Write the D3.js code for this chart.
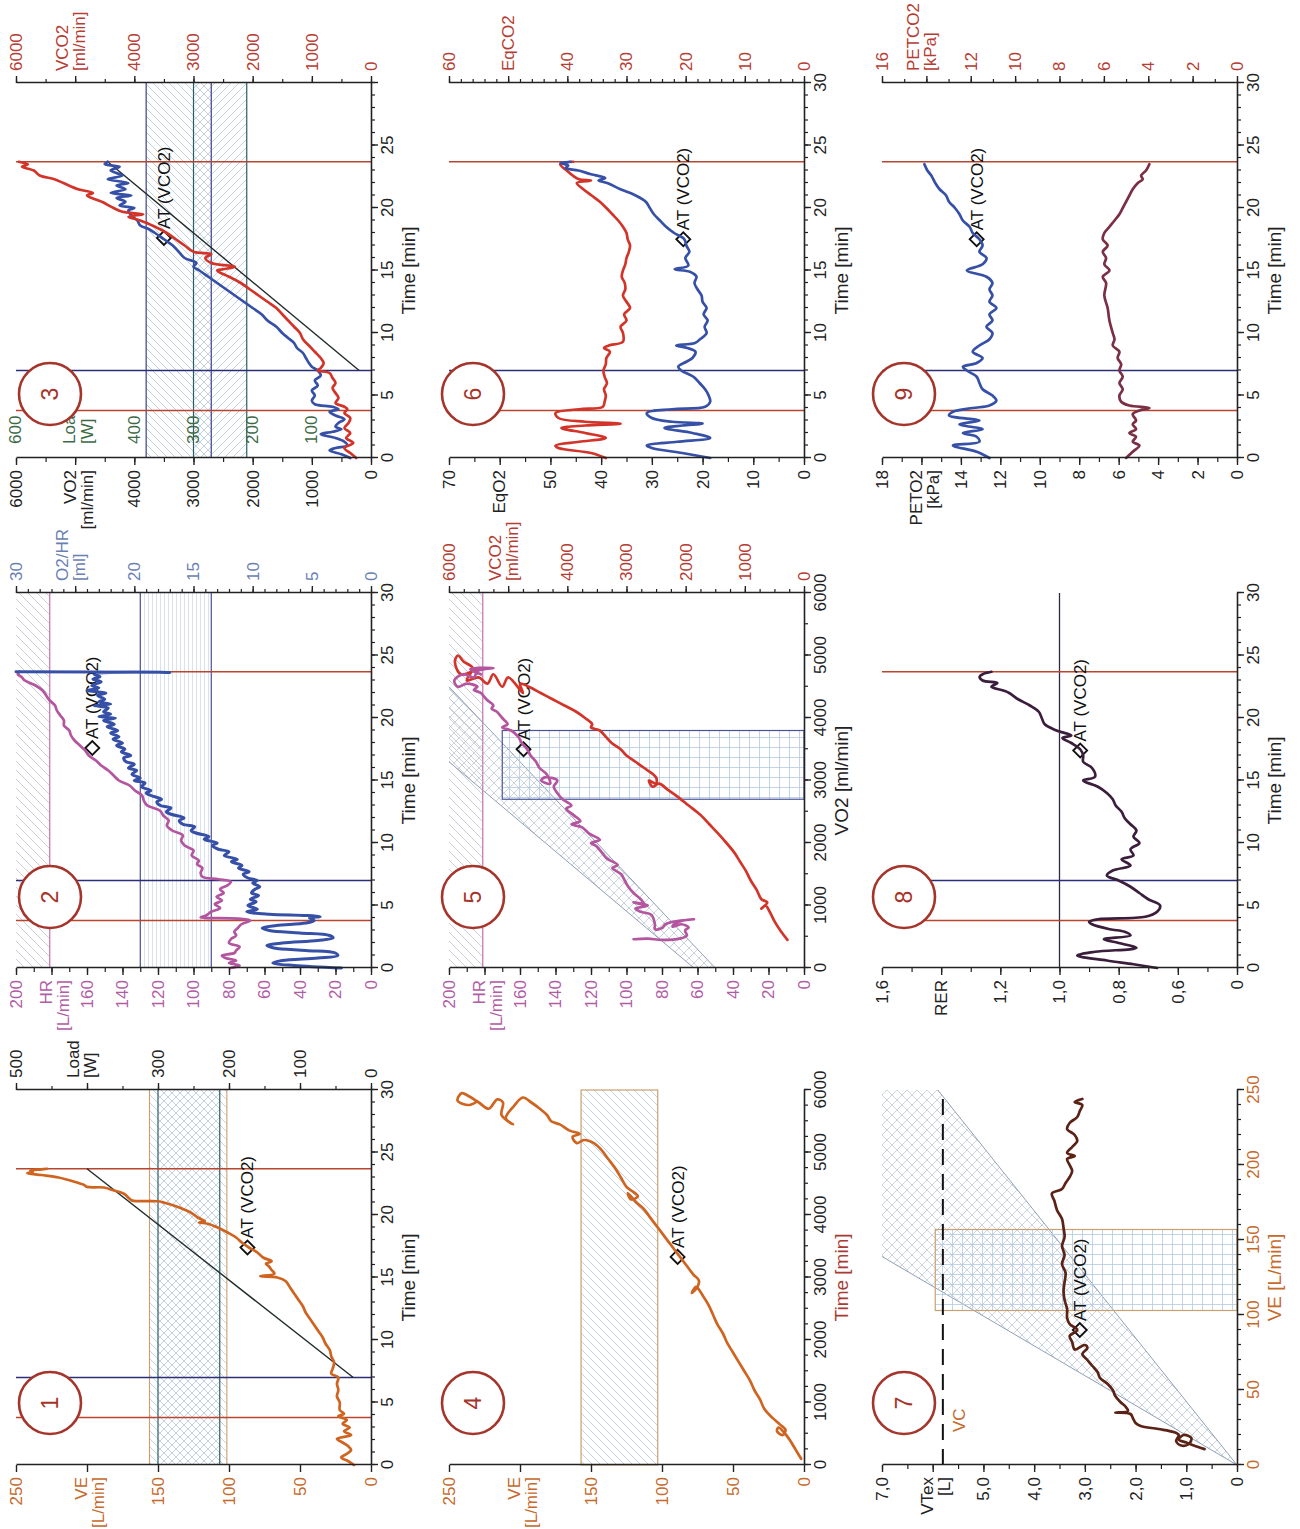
<!DOCTYPE html>
<html>
<head>
<meta charset="utf-8">
<title>CPET nine-panel plot</title>
<script src="https://cdn.jsdelivr.net/npm/d3@7"></script>
<style>
  body { margin: 0; background: #fff; }
  svg text { font-family: "Liberation Sans", Arial, Helvetica, sans-serif; }
</style>
</head>
<body>
<svg id="chart" width="1300" height="1529"></svg>
<script>
// values (page is rotated 90deg)

// shared time markers: rest end, warm-up end, exercise end
var eventT = [3.8, 7.0, 23.7];
var eventColor = ["#b9452f", "#2c2e78", "#b9452f"];

// panel 1: VE vs time, load ramp
var veSeries = [[0,12],[0.3,16],[0.6,21],[0.9,17],[1.2,14],[1.5,16],[1.8,20],[2.1,24],[2.4,14],[2.7,19],[3.0,15],[3.3,20],[3.6,17],[3.9,23],[4.1,19],[4.4,22],[5.0,22],[5.5,24],[6.0,23],[6.5,24],[7.0,23],[7.3,28],[7.7,27],[8.2,26],[8.7,28],[9.2,29],[9.7,32],[10.2,34],[10.7,37],[11.2,40],[11.7,43],[12.2,46],[12.7,48],[13.2,51],[13.7,54],[14.2,57],[14.7,60],[15.0,66],[15.1,78],[15.3,68],[15.6,70],[15.9,72],[16.1,74],[16.3,70],[16.6,76],[17.0,80],[17.4,86],[17.8,91],[18.2,95],[18.6,101],[19.0,108],[19.3,115],[19.4,121],[19.5,117],[19.8,122],[20.2,127],[20.6,135],[21.0,146],[21.1,150],[21.15,168],[21.3,170],[21.7,174],[22.0,182],[22.2,188],[22.25,200],[22.4,202],[22.7,210],[23.0,220],[23.2,232],[23.35,242],[23.45,238],[23.55,240],[23.65,232],[23.7,228]];
var loadRamp = [[7.0,25],[23.7,400]];
var p1VEBand = [101.5, 156];
var p1LoadBand = [213, 300];
var p1AT = [17.4, 87];

// panel 2: HR and O2 pulse vs time
var hrSeries = [[0,79],[0.2,74],[0.4,80],[0.6,76],[0.8,82],[1.0,84],[1.2,77],[1.4,76],[1.7,74],[2.0,80],[2.3,79],[2.6,76],[2.9,77],[3.2,75],[3.5,73],[3.8,68],[3.95,75],[4.05,96],[4.2,93],[4.5,90],[4.8,85],[5.1,88],[5.4,84],[5.7,87],[6.0,83],[6.3,85],[6.6,81],[6.9,79],[7.1,86],[7.3,95],[7.6,96],[8.0,95],[8.3,98],[8.6,97],[9.0,101],[9.4,100],[9.8,105],[10.2,107],[10.6,106],[11.0,112],[11.4,115],[11.8,114],[12.2,117],[12.6,119],[13.0,126],[13.4,128],[13.8,129],[14.2,133],[14.6,136],[15.0,142],[15.4,145],[15.8,148],[16.2,152],[16.6,155],[17.0,159],[17.4,161],[17.8,164],[18.2,167],[18.6,169],[19.0,170],[19.4,173],[19.8,173],[20.2,175],[20.6,177],[21.0,178],[21.4,181],[21.8,183],[22.2,185],[22.6,189],[23.0,195],[23.3,197],[23.5,199],[23.7,198]];
var o2hrSeries = [[0,2.5],[0.2,6.5],[0.4,8.3],[0.6,7.5],[0.8,4.5],[1.0,2.8],[1.2,3.0],[1.4,5.5],[1.6,8.2],[1.8,8.8],[2.0,7.5],[2.2,4.5],[2.4,3.2],[2.6,3.5],[2.8,6.0],[3.0,8.6],[3.2,9.2],[3.4,8.0],[3.6,5.5],[3.8,4.8],[4.0,5.2],[4.1,4.3],[4.2,5.5],[4.3,8.6],[4.5,10.5],[4.7,9.6],[5.0,10.4],[5.3,9.7],[5.5,10.2],[5.8,9.5],[6.0,10.1],[6.3,9.8],[6.5,9.4],[6.8,10.0],[7.0,9.6],[7.2,10.4],[7.5,10.8],[7.7,10.3],[8.0,11.2],[8.2,10.9],[8.5,11.8],[8.7,11.3],[9.0,12.4],[9.3,12.0],[9.5,12.9],[9.8,13.4],[10.0,13.0],[10.3,14.1],[10.5,13.7],[10.8,14.8],[11.0,15.2],[11.3,14.9],[11.5,15.9],[11.8,16.2],[12.0,15.8],[12.3,16.9],[12.5,17.3],[12.8,16.9],[13.0,17.8],[13.3,18.1],[13.5,17.7],[13.8,18.6],[14.0,19.0],[14.2,18.6],[14.5,19.4],[14.8,19.1],[15.0,20.0],[15.2,19.5],[15.5,20.2],[15.8,19.8],[16.0,20.5],[16.3,20.0],[16.5,20.7],[16.8,20.9],[17.0,20.3],[17.3,21.1],[17.5,20.8],[17.8,21.5],[18.0,21.0],[18.3,21.8],[18.5,21.3],[18.8,22.0],[19.0,21.4],[19.3,22.3],[19.5,21.7],[19.8,22.6],[20.0,21.6],[20.1,23.0],[20.3,22.0],[20.5,22.6],[20.8,22.2],[21.0,23.4],[21.1,22.0],[21.3,23.0],[21.5,22.5],[21.8,23.1],[22.0,22.4],[22.2,24.0],[22.4,23.0],[22.6,23.6],[22.9,22.8],[23.1,23.5],[23.3,22.9],[23.5,23.4],[23.6,23.0],[23.65,17],[23.7,30]];
var hrMax = 181;
var o2hrBand = [13.5, 19.5];
var p2AT = [17.6, 157];

// panel 3: VO2 and VCO2 vs time, load ramp
var vo2Series = [[0,350],[0.3,500],[0.6,700],[0.8,600],[1.0,400],[1.3,450],[1.6,600],[1.9,850],[2.1,650],[2.3,500],[2.5,600],[2.8,550],[3.1,450],[3.4,600],[3.7,700],[3.9,550],[4.1,650],[4.3,950],[4.6,1000],[5.0,950],[5.4,1000],[5.8,900],[6.2,950],[6.6,850],[7.0,900],[7.3,1000],[7.6,1050],[8.0,1100],[8.4,1150],[8.8,1250],[9.2,1300],[9.6,1400],[10.0,1500],[10.5,1600],[11.0,1750],[11.5,1850],[12.0,2000],[12.5,2150],[13.0,2300],[13.5,2450],[14.0,2600],[14.5,2750],[15.0,2900],[15.3,3000],[15.6,2950],[16.0,3150],[16.5,3250],[17.0,3350],[17.5,3500],[18.0,3650],[18.3,3750],[18.6,3900],[19.0,3950],[19.4,4050],[19.8,4100],[20.0,4000],[20.2,4250],[20.5,4150],[20.8,4300],[21.0,4050],[21.2,4400],[21.5,4150],[21.8,4300],[22.0,4100],[22.3,4450],[22.6,4200],[23.0,4400],[23.3,4250],[23.5,4500],[23.7,4450]];
var vco2Series = [[0,250],[0.4,350],[0.8,450],[1.2,300],[1.6,420],[2.0,350],[2.4,450],[2.8,380],[3.2,350],[3.6,450],[3.9,400],[4.1,450],[4.4,600],[4.8,550],[5.2,600],[5.6,650],[6.0,600],[6.4,650],[6.8,700],[7.0,900],[7.2,850],[7.6,800],[8.0,850],[8.5,950],[9.0,1050],[9.5,1150],[10.0,1200],[10.5,1300],[11.0,1400],[11.5,1500],[12.0,1600],[12.5,1750],[13.0,1900],[13.5,2050],[14.0,2200],[14.5,2400],[15.0,2600],[15.1,2500],[15.3,2300],[15.6,2700],[16.0,2800],[16.3,2700],[16.5,3000],[17.0,3150],[17.5,3300],[18.0,3450],[18.5,3650],[19.0,3900],[19.3,4100],[19.5,3850],[19.7,4200],[20.0,4350],[20.5,4550],[21.0,4800],[21.2,4700],[21.5,4950],[22.0,5200],[22.3,5350],[22.6,5600],[23.0,5700],[23.3,5900],[23.5,5800],[23.7,5950]];
var loadRamp3 = [[7.0,20],[23.7,445]];
var vo2Band = [2700, 3800];
var loadBand3 = [210, 300];
var p3AT = [17.6, 3500];
var loadInnerTicks = [100, 200, 300, 400, 500, 600];
var loadInnerLabels = ["100", "200", "300", "400", "", "600"];

// panel 4: VE vs VCO2
var p4Series = [[100,2],[250,6],[400,10],[520,14],[600,18],[540,19],[480,15],[560,13],[650,17],[750,22],[900,28],[1050,31],[1200,35],[1350,38],[1500,42],[1650,46],[1800,50],[1950,54],[2100,57],[2250,61],[2400,64],[2550,67],[2700,71],[2850,76],[2750,79],[2850,75],[2950,74],[3050,78],[3200,83],[3350,88],[3500,93],[3650,98],[3800,103],[3950,108],[4100,113],[4200,118],[4350,124],[4250,122],[4300,117],[4450,125],[4600,129],[4750,133],[4900,138],[5050,143],[5150,148],[5200,155],[5150,160],[5250,163],[5300,158],[5350,165],[5450,172],[5500,178],[5600,181],[5700,186],[5800,192],[5880,198],[5750,204],[5550,210],[5450,205],[5600,213],[5800,212],[5850,216],[5700,222],[5800,229],[5900,236],[5950,241],[5830,244],[5760,236],[5820,230]];
var p4Band = [103, 157];
var p4AT = [3330, 89];

// panel 5: HR and VCO2 vs VO2
var p5HrSeries = [[460,96],[470,88],[450,80],[470,70],[520,66],[600,67],[650,65],[700,69],[660,74],[720,72],[760,68],[780,62],[740,74],[700,78],[640,80],[620,84],[700,84],[850,86],[900,92],[950,95],[1000,88],[1050,96],[1020,90],[1100,92],[1200,96],[1300,99],[1400,101],[1500,103],[1600,108],[1650,105],[1750,111],[1850,114],[1950,117],[2000,120],[2050,115],[2150,121],[2250,125],[2300,131],[2350,126],[2450,130],[2550,134],[2600,131],[2700,136],[2800,139],[2900,141],[3000,139],[3050,146],[3000,148],[2950,143],[3100,145],[3200,149],[3300,151],[3400,154],[3500,156],[3600,159],[3700,161],[3800,165],[3850,170],[3900,167],[4000,170],[4100,173],[4150,176],[4200,175],[4300,179],[4400,182],[4450,186],[4500,184],[4550,190],[4500,195],[4600,197],[4700,192],[4650,186],[4750,184],[4800,175],[4780,188],[4700,182]];
var p5Vco2Series = [[450,280],[600,400],[750,500],[900,580],[1000,650],[950,720],[1050,620],[1100,720],[1250,800],[1400,900],[1550,980],[1700,1080],[1850,1180],[2000,1310],[2150,1450],[2300,1600],[2450,1750],[2600,1950],[2750,2150],[2850,2300],[2950,2450],[2900,2560],[3000,2620],[2950,2500],[3050,2500],[3200,2700],[3300,2850],[3400,3000],[3500,3100],[3600,3250],[3700,3350],[3800,3450],[3850,3600],[3900,3580],[4000,3700],[4100,3850],[4200,4050],[4300,4250],[4400,4450],[4500,4650],[4550,4800],[4400,4750],[4650,5000],[4500,5100],[4700,5250],[4550,5350],[4650,5500],[4600,5700],[4800,5600],[4900,5750],[5000,5850],[4900,5900],[4700,5800],[4800,5500]];
var fanLow = [[0,50],[4500,200]];
var fanHigh = [[0,62],[3300,200]];
var p5Rect = [2700, 3800, 170];
var p5AT = [3500, 158];

// panel 6: ventilatory equivalents vs time
var eqo2Series = [[0,18.5],[0.4,24],[0.8,30],[1.0,31],[1.3,25],[1.6,18.5],[2.0,22],[2.4,27.5],[2.6,24],[2.75,20],[2.9,26],[3.2,30],[3.6,31],[3.9,26],[4.1,19.5],[4.5,18.5],[5.0,18.8],[5.5,19.5],[6.0,20.6],[6.5,21.8],[7.0,24.2],[7.3,24.8],[7.7,23.2],[8.0,22.0],[8.5,21.4],[8.8,23.0],[9.0,25.2],[9.2,21.5],[9.5,20.5],[10.0,19.2],[10.5,19.6],[11.0,19.0],[11.5,19.8],[12.0,19.2],[12.5,20.0],[13.0,20.2],[13.5,21.0],[14.0,21.6],[14.5,21.2],[14.9,22.5],[15.1,25.5],[15.4,22.8],[16.0,23.4],[16.5,22.6],[17.0,23.2],[17.5,23.6],[18.0,25.6],[18.5,27.2],[19.0,28.4],[19.5,29.6],[20.0,30.4],[20.5,31.2],[21.0,33.2],[21.5,36.2],[22.0,38.8],[22.2,40.5],[22.4,39.2],[22.7,42],[23.0,44.5],[23.2,47],[23.4,46.5],[23.6,48],[23.7,46]];
var eqco2Series = [[0,33.5],[0.4,36],[0.8,41.5],[1.0,42],[1.3,38],[1.6,33.5],[2.0,37],[2.4,41],[2.6,37],[2.75,31],[2.9,37],[3.2,41.5],[3.6,42],[3.9,38],[4.1,34],[4.5,33.7],[5.0,33.5],[5.5,33.8],[6.0,33.3],[6.5,33.7],[7.0,33.9],[7.5,33.5],[8.0,33.4],[8.5,32.8],[8.8,33.8],[9.0,33.0],[9.3,30.6],[10.0,30.6],[10.5,31.0],[11.0,30.0],[11.5,30.4],[12.0,29.4],[12.5,30.0],[13.0,30.6],[13.5,30.2],[14.0,30.3],[14.5,30.8],[15.0,30.6],[15.5,30.2],[16.0,30.0],[16.5,29.6],[17.0,29.4],[17.5,29.8],[18.0,30.0],[18.5,30.6],[19.0,31.4],[19.5,32.4],[20.0,33.4],[20.5,34.5],[21.0,35.9],[21.5,37.3],[22.0,38.4],[22.2,36.0],[22.3,38.0],[22.5,38.8],[23.0,40.1],[23.5,41.2],[23.7,39]];
var p6AT = [17.5, 23.8];

// panel 7: tidal volume vs VE
var vtSeries = [[10.6,0.64],[13,0.85],[15,1.0],[17,1.15],[20,1.05],[18,0.9],[14,0.95],[13,1.1],[16,1.2],[20,1.15],[22,1.25],[24,1.55],[26,1.9],[28,2.0],[31,2.05],[34,2.1],[35,2.4],[36,2.15],[39,2.2],[42,2.3],[46,2.4],[50,2.45],[54,2.55],[58,2.7],[62,2.75],[66,2.85],[70,2.95],[74,3.05],[78,2.95],[80,3.0],[77,3.2],[82,3.25],[86,3.3],[90,3.15],[94,3.3],[98,3.35],[104,3.35],[110,3.4],[116,3.42],[122,3.4],[128,3.38],[134,3.45],[140,3.4],[146,3.45],[152,3.4],[158,3.42],[164,3.45],[170,3.55],[176,3.6],[181,3.65],[184,3.45],[188,3.38],[192,3.3],[196,3.25],[200,3.3],[204,3.35],[206,3.2],[208,3.35],[212,3.25],[216,3.15],[220,3.2],[224,3.35],[228,3.3],[232,3.15],[236,3.1],[240,3.05],[242,3.2],[244,3.05]];
var vcLevel = 5.8;
var fanSteep = [[0,0],[139,7.0]];
var fanShallow = [[0,0],[250,5.9]];
var p7Rect = [103, 157, 5.95];
var p7AT = [90, 3.1];

// panel 8: RER vs time
var rerSeries = [[0,0.67],[0.3,0.75],[0.6,0.84],[1.0,0.94],[1.3,0.88],[1.6,0.74],[2.0,0.8],[2.3,0.85],[2.6,0.76],[2.9,0.78],[3.1,0.83],[3.5,0.89],[3.7,0.9],[3.9,0.87],[4.1,0.71],[4.5,0.67],[5.0,0.66],[5.5,0.7],[6.0,0.73],[6.5,0.76],[7.0,0.8],[7.4,0.84],[7.8,0.82],[8.2,0.76],[8.7,0.79],[9.0,0.75],[9.5,0.76],[10.0,0.73],[10.5,0.75],[11.0,0.74],[11.5,0.76],[12.0,0.78],[12.5,0.79],[13.0,0.81],[13.5,0.82],[14.0,0.84],[14.5,0.87],[15.0,0.92],[15.3,0.88],[16.0,0.89],[16.5,0.92],[17.0,0.92],[17.5,0.93],[18.0,0.96],[18.4,0.99],[18.6,0.96],[19.0,1.01],[19.5,1.05],[20.0,1.06],[20.5,1.07],[21.0,1.1],[21.5,1.14],[22.0,1.17],[22.2,1.19],[22.5,1.23],[22.8,1.21],[23.0,1.26],[23.3,1.27],[23.5,1.26],[23.7,1.23]];
var rerRef = 1.0;
var p8AT = [17.4, 0.93];
var rerTicks = [0.4, 0.6, 0.8, 1.0, 1.2, 1.4, 1.6];
var rerLabels = ["0", "0,6", "0,8", "1,0", "1,2", "", "1,6"];

// panel 9: end-tidal pressures vs time
var peto2Series = [[0,12.55],[0.5,13.2],[1.0,14.4],[1.3,13.06],[1.7,13.2],[2.0,13.9],[2.3,12.9],[2.7,14.07],[3.0,13.06],[3.4,14.6],[3.7,14.4],[4.0,13.4],[4.2,12.55],[4.6,12.2],[5.0,12.4],[5.5,12.9],[6.0,13.06],[6.5,13.2],[7.0,13.7],[7.3,13.9],[7.6,13.2],[8.0,12.9],[8.5,13.4],[9.0,13.06],[9.5,12.55],[10.0,12.4],[10.5,12.7],[11.0,12.4],[11.5,12.55],[12.0,12.2],[12.5,12.55],[13.0,12.4],[13.5,12.55],[14.0,12.4],[14.5,12.7],[15.0,13.7],[15.5,12.9],[16.0,12.7],[16.5,13.06],[17.0,12.9],[17.5,13.06],[18.0,13.4],[18.5,13.56],[19.0,13.9],[19.5,14.07],[20.0,14.3],[20.5,14.6],[21.0,14.75],[21.5,15.08],[22.0,15.3],[22.3,15.4],[22.6,15.5],[23.0,15.7],[23.5,15.85]];
var petco2Series = [[0,5.0],[0.5,4.7],[1.0,4.4],[1.3,4.7],[1.7,4.55],[2.0,4.85],[2.3,4.55],[2.7,4.7],[3.0,4.55],[3.5,4.7],[3.8,4.4],[4.0,3.95],[4.2,4.85],[4.5,5.22],[5.0,5.3],[5.5,5.15],[6.0,5.3],[6.5,5.15],[7.0,5.3],[7.5,5.22],[8.0,5.38],[8.5,5.3],[9.0,5.6],[9.5,5.52],[10.0,5.6],[11.0,5.75],[12.0,5.83],[13.0,5.98],[14.0,5.9],[14.5,6.05],[15.0,5.75],[15.5,5.98],[16.0,5.9],[16.5,6.05],[17.0,5.83],[17.5,6.05],[18.0,5.98],[18.5,5.75],[19.0,5.52],[19.5,5.3],[20.0,5.15],[20.5,5.0],[21.0,4.85],[21.5,4.7],[22.0,4.47],[22.3,4.25],[22.6,4.32],[23.0,4.1],[23.5,3.95]];
var p9AT = [17.5, 13.2];

// ---- drawing ----
var FONT = '"Liberation Sans", Arial, Helvetica, sans-serif';
var INK = "#222";
var ORANGE = "#cf6420", BLUE = "#3550a6", RED = "#d2342a", MAGENTA = "#b3559f";
var BADGE = "#a5342a", TAN = "#c9a070", TEAL = "#2c5c62", NAVY = "#3a3f86", PINK = "#c77ab6";
var C_VE = "#c66a2c", C_HR = "#b25ca5", C_O2HR = "#6a7fb4", C_RED = "#b53d33", C_LOAD3 = "#3d6a46";

var svg = d3.select("#chart");
var defs = svg.append("defs");
var W = 375, H = 355;
var colX = [64, 561, 1071], rowY = [16, 449, 882];
var circU = [62, 71, 64], circV = [34, 24, 22];

// whole figure is drawn upright then turned a quarter turn
var root = svg.append("g").attr("transform", "translate(0,1529) rotate(-90)");

function pattern(id, s, d, color, w) {
  var p = defs.append("pattern").attr("id", id).attr("patternUnits", "userSpaceOnUse")
      .attr("width", s).attr("height", s);
  p.append("path").attr("d", d).attr("stroke", color).attr("stroke-width", w).attr("fill", "none");
}
function up(s) { return "M0," + s + "L" + s + ",0M-1,1L1,-1M" + (s - 1) + "," + (s + 1) + "L" + (s + 1) + "," + (s - 1); }
function down(s) { return "M0,0L" + s + "," + s + "M-1," + (s - 1) + "L1," + (s + 1) + "M" + (s - 1) + ",-1L" + (s + 1) + ",1"; }
pattern("hatchUp", 8, up(8), "#b3c7db", 0.8);
pattern("hatchDown", 8, down(8), "#b3c7db", 0.8);
pattern("hatchGrey", 9, up(9), "#c0c1cb", 0.8);
pattern("cross", 10, up(10) + down(10), "#b6c2d2", 0.7);
pattern("grid", 10, "M0,0.5H10M0.5,0V10", "#b3c9e1", 0.8);
pattern("horiz", 4, "M0,0.5H4", "#cfdbec", 0.8);

var tx = d3.scaleLinear().domain([0, 30]).range([0, W]);
var curve = d3.curveCatmullRom.alpha(0.5);

function makePanel(col, row, num) {
  var g = root.append("g").attr("transform", "translate(" + colX[col] + "," + rowY[row] + ")");
  g.append("clipPath").attr("id", "clip" + num).append("rect")
      .attr("x", -2).attr("y", -3).attr("width", W + 4).attr("height", H + 5);
  return g;
}

function axis(g, scale, side, o) {
  var gen = side == "left" ? d3.axisLeft : side == "right" ? d3.axisRight : d3.axisBottom;
  var pos = side == "right" ? "translate(" + W + ",0)" : side == "bottom" ? "translate(0," + H + ")" : "translate(0,0)";
  if (o.minor) {
    var m = g.append("g").attr("transform", pos)
        .call(gen(scale).tickValues(o.minor).tickSize(4).tickSizeOuter(0).tickFormat(""));
    m.select(".domain").remove();
    m.selectAll("line").attr("stroke", INK).attr("stroke-width", 1.2);
  }
  var a = g.append("g").attr("transform", pos)
      .call(gen(scale).tickValues(o.ticks).tickSize(7).tickSizeOuter(0)
        .tickPadding(side == "bottom" ? 3 : 5)
        .tickFormat(function(d, i) { return o.labels ? o.labels[i] : d; }));
  a.select(".domain").attr("stroke", INK).attr("stroke-width", 1.6);
  a.selectAll(".tick line").attr("stroke", INK).attr("stroke-width", 1.4);
  a.selectAll(".tick text").attr("fill", o.color || INK)
      .style("font-size", "17px").style("font-family", FONT);

  if (!o.title) return;
  if (side == "bottom") {
    g.append("text").attr("x", W / 2).attr("y", H + 44).attr("text-anchor", "middle")
        .attr("fill", o.titleColor || o.color || INK).style("font-size", "19px").text(o.title);
    return;
  }
  var c = scale(o.titleAt);
  var x = side == "left" ? -12 : W + 12;
  var off = side == "left" ? [-5, 12] : [-13, 4];
  var t = g.append("text").attr("x", x)
      .attr("text-anchor", side == "left" ? "end" : "start")
      .attr("fill", o.color || INK).style("font-size", "17px");
  if (o.title.length == 1) {
    t.append("tspan").attr("x", x).attr("y", c).attr("dy", "0.32em").text(o.title[0]);
  } else {
    t.append("tspan").attr("x", x).attr("y", c + off[0]).attr("dy", "0.32em").text(o.title[0]);
    t.append("tspan").attr("x", x).attr("y", c + off[1]).attr("dy", "0.32em").text(o.title[1]);
  }
}

function timeAxis(g, skip30) {
  axis(g, tx, "bottom", {
    ticks: [0, 5, 10, 15, 20, 25, 30],
    labels: ["0", "5", "10", "15", "20", "25", skip30 ? "" : "30"],
    minor: d3.range(0, 31, 1),
    title: "Time [min]"
  });
}

function band(g, x0, x1, y0, y1, fill, stroke, sw) {
  g.append("rect").attr("x", Math.min(x0, x1)).attr("y", Math.min(y0, y1))
      .attr("width", Math.abs(x1 - x0)).attr("height", Math.abs(y1 - y0))
      .attr("fill", fill).attr("stroke", stroke || "none").attr("stroke-width", sw || 1);
}
function hline(g, y, color, w, dash) {
  g.append("line").attr("x1", 0).attr("x2", W).attr("y1", y).attr("y2", y)
      .attr("stroke", color).attr("stroke-width", w).attr("stroke-dasharray", dash || null);
}
function events(g) {
  eventT.forEach(function(t, i) {
    g.append("line").attr("x1", tx(t)).attr("x2", tx(t)).attr("y1", 0).attr("y2", H)
        .attr("stroke", eventColor[i]).attr("stroke-width", 1.5);
  });
}
function atMark(g, x, y) {
  var r = 7;
  g.append("path").attr("d", "M" + x + "," + (y - r) + "L" + (x + r) + "," + y + "L" + x + "," + (y + r) + "L" + (x - r) + "," + y + "Z")
      .attr("fill", "none").attr("stroke", "#111").attr("stroke-width", 1.8);
  g.append("text").attr("x", x + 9).attr("y", y).attr("dy", "0.35em")
      .attr("fill", "#111").style("font-size", "17px").text("AT (VCO2)");
}
function trace(g, data, xs, ys, color, num, w) {
  g.append("path").datum(data)
      .attr("d", d3.line().x(function(d) { return xs(d[0]); }).y(function(d) { return ys(d[1]); }).curve(curve))
      .attr("fill", "none").attr("stroke", color).attr("stroke-width", w || 2.7)
      .attr("stroke-linejoin", "round").attr("stroke-linecap", "round")
      .attr("clip-path", "url(#clip" + num + ")");
}
function straight(g, data, xs, ys, color, w, num) {
  g.append("path").datum(data)
      .attr("d", d3.line().x(function(d) { return xs(d[0]); }).y(function(d) { return ys(d[1]); }))
      .attr("fill", "none").attr("stroke", color).attr("stroke-width", w)
      .attr("clip-path", "url(#clip" + num + ")");
}
function badge(g, col, row, num) {
  g.append("circle").attr("cx", circU[col]).attr("cy", circV[row]).attr("r", 31)
      .attr("fill", "#fff").attr("stroke", BADGE).attr("stroke-width", 2.6);
  g.append("text").attr("x", circU[col]).attr("y", circV[row]).attr("dy", "0.36em")
      .attr("text-anchor", "middle").attr("fill", BADGE).style("font-size", "23px").text(num);
}

// ---- panel 1 ----
(function() {
  var g = makePanel(0, 0, 1);
  var y = d3.scaleLinear().domain([0, 250]).range([H, 0]);
  var yLoad = d3.scaleLinear().domain([0, 500]).range([H, 0]);
  band(g, 0, W, y(p1VEBand[0]), y(p1VEBand[1]), "url(#hatchUp)");
  band(g, 0, W, yLoad(p1LoadBand[0]), yLoad(p1LoadBand[1]), "url(#hatchDown)");
  p1VEBand.forEach(function(v) { hline(g, y(v), TAN, 1.1); });
  p1LoadBand.forEach(function(v) { hline(g, yLoad(v), TEAL, 1.2); });
  events(g);
  straight(g, loadRamp, tx, yLoad, "#1f2b28", 1.4, 1);
  atMark(g, tx(p1AT[0]), y(p1AT[1]));
  trace(g, veSeries, tx, y, ORANGE, 1);
  axis(g, y, "left", { ticks: [0, 50, 100, 150, 200, 250], labels: ["0", "50", "100", "150", "", "250"],
    color: C_VE, title: ["VE", "[L/min]"], titleAt: 200 });
  timeAxis(g);
  axis(g, yLoad, "right", { ticks: [0, 100, 200, 300, 400, 500], labels: ["0", "100", "200", "300", "", "500"],
    minor: d3.range(0, 501, 50), title: ["Load", "[W]"], titleAt: 400 });
  badge(g, 0, 0, 1);
})();

// ---- panel 2 ----
(function() {
  var g = makePanel(1, 0, 2);
  var y = d3.scaleLinear().domain([0, 200]).range([H, 0]);
  var yO = d3.scaleLinear().domain([0, 30]).range([H, 0]);
  band(g, 0, W, 0, y(hrMax), "url(#hatchGrey)");
  hline(g, y(hrMax), PINK, 1.3);
  band(g, 0, W, yO(o2hrBand[1]), yO(o2hrBand[0]), "url(#horiz)");
  o2hrBand.forEach(function(v) { hline(g, yO(v), NAVY, 1.1); });
  events(g);
  atMark(g, tx(p2AT[0]), y(p2AT[1]));
  trace(g, hrSeries, tx, y, MAGENTA, 2);
  trace(g, o2hrSeries, tx, yO, BLUE, 2, 3);
  axis(g, y, "left", { ticks: d3.range(0, 201, 20),
    labels: ["0", "20", "40", "60", "80", "100", "120", "140", "160", "", "200"],
    minor: d3.range(0, 201, 10), color: C_HR, title: ["HR", "[L/min]"], titleAt: 180 });
  timeAxis(g);
  axis(g, yO, "right", { ticks: [0, 5, 10, 15, 20, 25, 30], labels: ["0", "5", "10", "15", "20", "", "30"],
    minor: d3.range(0, 31, 1), color: C_O2HR, title: ["O2/HR", "[ml]"], titleAt: 25 });
  badge(g, 1, 0, 2);
})();

// ---- panel 3 ----
(function() {
  var g = makePanel(2, 0, 3);
  var y = d3.scaleLinear().domain([0, 6000]).range([H, 0]);
  var yLoad = d3.scaleLinear().domain([0, 600]).range([H, 0]);
  band(g, 0, W, y(vo2Band[0]), y(vo2Band[1]), "url(#hatchUp)");
  band(g, 0, W, yLoad(loadBand3[0]), yLoad(loadBand3[1]), "url(#hatchDown)");
  vo2Band.forEach(function(v) { hline(g, y(v), NAVY, 1.2); });
  loadBand3.forEach(function(v) { hline(g, yLoad(v), TEAL, 1.2); });
  events(g);
  straight(g, loadRamp3, tx, yLoad, "#1f2b28", 1.4, 3);
  atMark(g, tx(p3AT[0]), y(p3AT[1]));
  trace(g, vo2Series, tx, y, BLUE, 3);
  trace(g, vco2Series, tx, y, RED, 3);
  // inner load scale
  loadInnerTicks.forEach(function(v, i) {
    g.append("text").attr("x", 14).attr("y", yLoad(v)).attr("dy", "0.32em")
        .attr("fill", C_LOAD3).style("font-size", "17px").text(loadInnerLabels[i]);
  });
  g.append("text").attr("x", 14).attr("y", yLoad(500) - 6).attr("dy", "0.32em")
      .attr("fill", C_LOAD3).style("font-size", "17px").text("Load");
  g.append("text").attr("x", 14).attr("y", yLoad(500) + 12).attr("dy", "0.32em")
      .attr("fill", C_LOAD3).style("font-size", "17px").text("[W]");
  axis(g, y, "left", { ticks: d3.range(0, 6001, 1000), labels: ["0", "1000", "2000", "3000", "4000", "", "6000"],
    minor: d3.range(0, 6001, 500), title: ["VO2", "[ml/min]"], titleAt: 5000 });
  timeAxis(g, true);
  axis(g, y, "right", { ticks: d3.range(0, 6001, 1000), labels: ["0", "1000", "2000", "3000", "4000", "", "6000"],
    minor: d3.range(0, 6001, 500), color: C_RED, title: ["VCO2", "[ml/min]"], titleAt: 5000 });
  badge(g, 2, 0, 3);
})();

// ---- panel 4 ----
(function() {
  var g = makePanel(0, 1, 4);
  var x = d3.scaleLinear().domain([0, 6000]).range([0, W]);
  var y = d3.scaleLinear().domain([0, 250]).range([H, 0]);
  band(g, x(0), x(6000), y(p4Band[0]), y(p4Band[1]), "url(#hatchUp)", TAN, 1.2);
  atMark(g, x(p4AT[0]), y(p4AT[1]));
  trace(g, p4Series, x, y, ORANGE, 4);
  axis(g, y, "left", { ticks: [0, 50, 100, 150, 200, 250], labels: ["0", "50", "100", "150", "", "250"],
    color: C_VE, title: ["VE", "[L/min]"], titleAt: 200 });
  axis(g, x, "bottom", { ticks: d3.range(0, 6001, 1000), minor: d3.range(0, 6001, 250),
    title: "Time [min]", titleColor: "#a83c34" });
  badge(g, 0, 1, 4);
})();

// ---- panel 5 ----
(function() {
  var g = makePanel(1, 1, 5);
  var x = d3.scaleLinear().domain([0, 6000]).range([0, W]);
  var y = d3.scaleLinear().domain([0, 200]).range([H, 0]);
  var yC = d3.scaleLinear().domain([0, 6000]).range([H, 0]);
  band(g, 0, W, 0, y(hrMax), "url(#hatchGrey)");
  hline(g, y(hrMax), PINK, 1.3);
  var fan = [fanLow[0], fanLow[1], fanHigh[1], fanHigh[0]];
  g.append("path").attr("d", d3.line().x(function(d) { return x(d[0]); }).y(function(d) { return y(d[1]); })(fan) + "Z")
      .attr("fill", "url(#cross)").attr("stroke", "none").attr("clip-path", "url(#clip5)");
  straight(g, fanLow, x, y, "#8fa0b8", 1, 5);
  straight(g, fanHigh, x, y, "#8fa0b8", 1, 5);
  band(g, x(p5Rect[0]), x(p5Rect[1]), y(0), y(p5Rect[2]), "url(#grid)", "#4a5596", 1.2);
  atMark(g, x(p5AT[0]), y(p5AT[1]));
  trace(g, p5Vco2Series, x, yC, RED, 5);
  trace(g, p5HrSeries, x, y, MAGENTA, 5);
  axis(g, y, "left", { ticks: d3.range(0, 201, 20),
    labels: ["0", "20", "40", "60", "80", "100", "120", "140", "160", "", "200"],
    minor: d3.range(0, 201, 10), color: C_HR, title: ["HR", "[L/min]"], titleAt: 180 });
  axis(g, x, "bottom", { ticks: d3.range(0, 6001, 1000), minor: d3.range(0, 6001, 500), title: "VO2 [ml/min]" });
  axis(g, yC, "right", { ticks: d3.range(0, 6001, 1000), labels: ["0", "1000", "2000", "3000", "4000", "", "6000"],
    minor: d3.range(0, 6001, 250), color: C_RED, title: ["VCO2", "[ml/min]"], titleAt: 5000 });
  badge(g, 1, 1, 5);
})();

// ---- panel 6 ----
(function() {
  var g = makePanel(2, 1, 6);
  var y = d3.scaleLinear().domain([0, 70]).range([H, 0]);
  var yC = d3.scaleLinear().domain([0, 60]).range([H, 0]);
  events(g);
  atMark(g, tx(p6AT[0]), y(p6AT[1]));
  trace(g, eqco2Series, tx, yC, RED, 6);
  trace(g, eqo2Series, tx, y, BLUE, 6);
  axis(g, y, "left", { ticks: d3.range(0, 71, 10), labels: ["0", "10", "20", "30", "40", "50", "", "70"],
    minor: d3.range(0, 71, 5), title: ["EqO2"], titleAt: 60 });
  timeAxis(g);
  axis(g, yC, "right", { ticks: d3.range(0, 61, 10), labels: ["0", "10", "20", "30", "40", "", "60"],
    minor: d3.range(0, 61, 2), color: C_RED, title: ["EqCO2"], titleAt: 50 });
  badge(g, 2, 1, 6);
})();

// ---- panel 7 ----
(function() {
  var g = makePanel(0, 2, 7);
  var x = d3.scaleLinear().domain([0, 250]).range([0, W]);
  var y = d3.scaleLinear().domain([0, 7]).range([H, 0]);
  var wedge = [fanShallow[0], fanShallow[1], [fanShallow[1][0], 7], fanSteep[1]];
  g.append("path").attr("d", d3.line().x(function(d) { return x(d[0]); }).y(function(d) { return y(d[1]); })(wedge) + "Z")
      .attr("fill", "url(#cross)").attr("stroke", "none").attr("clip-path", "url(#clip7)");
  straight(g, fanSteep, x, y, "#8fa0b8", 1, 7);
  straight(g, fanShallow, x, y, "#8fa0b8", 1, 7);
  band(g, x(p7Rect[0]), x(p7Rect[1]), y(0), y(p7Rect[2]), "url(#grid)", TAN, 1.2);
  hline(g, y(vcLevel), "#111", 2, "16,9");
  g.append("text").attr("x", x(22)).attr("y", y(vcLevel) + 22).attr("fill", C_VE)
      .style("font-size", "17px").text("VC");
  atMark(g, x(p7AT[0]), y(p7AT[1]));
  trace(g, vtSeries, x, y, "#5b2216", 7);
  axis(g, y, "left", { ticks: [0, 1, 2, 3, 4, 5, 6, 7], labels: ["0", "1,0", "2,0", "3,0", "4,0", "5,0", "", "7,0"],
    minor: d3.range(0, 7.01, 0.5), title: ["VTex", "[L]"], titleAt: 6 });
  axis(g, x, "bottom", { ticks: d3.range(0, 251, 50), minor: d3.range(0, 251, 10), color: C_VE, title: "VE [L/min]" });
  badge(g, 0, 2, 7);
})();

// ---- panel 8 ----
(function() {
  var g = makePanel(1, 2, 8);
  var y = d3.scaleLinear().domain([0.4, 1.6]).range([H, 0]);
  hline(g, y(rerRef), "#2a2a4a", 1.3);
  events(g);
  atMark(g, tx(p8AT[0]), y(p8AT[1]));
  trace(g, rerSeries, tx, y, "#3b1e3b", 8);
  axis(g, y, "left", { ticks: rerTicks, labels: rerLabels, minor: d3.range(0.4, 1.61, 0.1),
    title: ["RER"], titleAt: 1.4 });
  timeAxis(g);
  badge(g, 1, 2, 8);
})();

// ---- panel 9 ----
(function() {
  var g = makePanel(2, 2, 9);
  var y = d3.scaleLinear().domain([0, 18]).range([H, 0]);
  var yC = d3.scaleLinear().domain([0, 16]).range([H, 0]);
  events(g);
  atMark(g, tx(p9AT[0]), y(p9AT[1]));
  trace(g, peto2Series, tx, y, BLUE, 9);
  trace(g, petco2Series, tx, yC, "#7b2f45", 9);
  axis(g, y, "left", { ticks: d3.range(0, 19, 2), labels: ["0", "2", "4", "6", "8", "10", "12", "14", "", "18"],
    minor: d3.range(0, 19, 1), title: ["PETO2", "[kPa]"], titleAt: 16 });
  timeAxis(g);
  axis(g, yC, "right", { ticks: d3.range(0, 17, 2), labels: ["0", "2", "4", "6", "8", "10", "12", "", "16"],
    minor: d3.range(0, 17, 1), color: C_RED, title: ["PETCO2", "[kPa]"], titleAt: 14 });
  badge(g, 2, 2, 9);
})();
</script>
</body>
</html>
